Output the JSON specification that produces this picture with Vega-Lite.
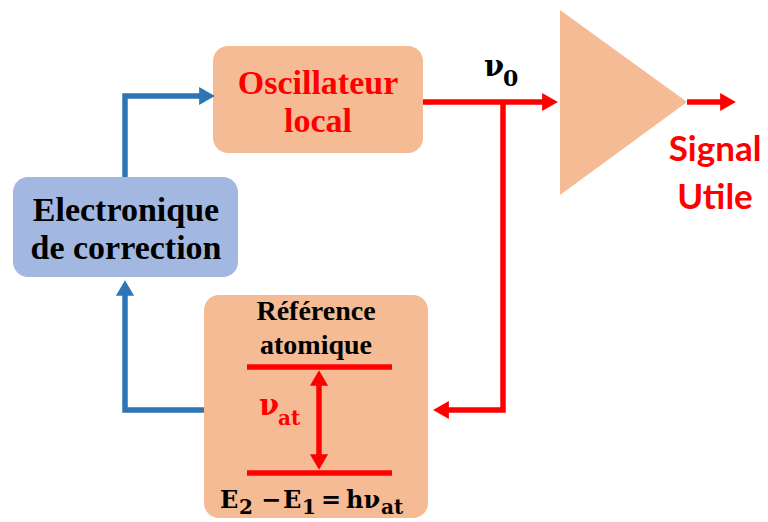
{
  "$schema": "https://vega.github.io/schema/vega-lite/v6.json",
  "width": 768,
  "height": 522,
  "autosize": {"type": "fit", "contains": "padding"},
  "padding": 0,
  "background": "white",
  "config": {"view": {"stroke": null}},
  "datasets": {
    "boxes": [
      {"x": 213, "x2": 423, "y": 46, "y2": 153, "c": "peach"},
      {"x": 204, "x2": 428, "y": 295, "y2": 518, "c": "peach"},
      {"x": 13, "x2": 238, "y": 177, "y2": 277, "c": "lightblue"}
    ],
    "tri": [
      {"x": 560, "y": 10, "y2": 195},
      {"x": 687, "y": 102, "y2": 102}
    ],
    "paths": [
      {"p": "b1", "c": "blue", "o": 1, "x": 125, "y": 177},
      {"p": "b1", "c": "blue", "o": 2, "x": 125, "y": 96},
      {"p": "b1", "c": "blue", "o": 3, "x": 207, "y": 96},
      {"p": "b2", "c": "blue", "o": 1, "x": 204, "y": 410},
      {"p": "b2", "c": "blue", "o": 2, "x": 125, "y": 410},
      {"p": "b2", "c": "blue", "o": 3, "x": 125, "y": 288},
      {"p": "r1", "c": "red", "o": 1, "x": 423, "y": 102},
      {"p": "r1", "c": "red", "o": 2, "x": 551, "y": 102},
      {"p": "r2", "c": "red", "o": 1, "x": 503, "y": 102},
      {"p": "r2", "c": "red", "o": 2, "x": 503, "y": 410},
      {"p": "r2", "c": "red", "o": 3, "x": 441, "y": 410},
      {"p": "r3", "c": "red", "o": 1, "x": 687, "y": 102},
      {"p": "r3", "c": "red", "o": 2, "x": 729, "y": 102},
      {"p": "r4", "c": "red", "o": 1, "x": 319, "y": 376},
      {"p": "r4", "c": "red", "o": 2, "x": 319, "y": 464},
      {"p": "r5", "c": "red", "o": 1, "x": 247, "y": 367},
      {"p": "r5", "c": "red", "o": 2, "x": 392, "y": 367},
      {"p": "r6", "c": "red", "o": 1, "x": 247, "y": 473},
      {"p": "r6", "c": "red", "o": 2, "x": 392, "y": 473}
    ],
    "heads": [
      {"x": 207, "y": 96, "d": "right", "c": "blue"},
      {"x": 125, "y": 288, "d": "up", "c": "blue"},
      {"x": 550, "y": 102, "d": "right", "c": "red"},
      {"x": 441, "y": 410, "d": "left", "c": "red"},
      {"x": 728, "y": 102, "d": "right", "c": "red"},
      {"x": 319, "y": 378, "d": "up", "c": "red"},
      {"x": 319, "y": 462, "d": "down", "c": "red"}
    ],
    "bigSerif": [
      {"t": "Oscillateur", "x": 318, "y": 84, "c": "red"},
      {"t": "local", "x": 318, "y": 122, "c": "red"},
      {"t": "Electronique", "x": 126, "y": 211, "c": "black"},
      {"t": "de correction", "x": 126, "y": 249, "c": "black"}
    ],
    "midSerif": [
      {"t": "Référence", "x": 316, "y": 312, "c": "black"},
      {"t": "atomique", "x": 316, "y": 346, "c": "black"}
    ],
    "mathBig": [
      {"t": "E", "x": 220, "y": 508, "c": "black"},
      {"t": "−", "x": 261, "y": 508, "c": "black"},
      {"t": "E", "x": 283, "y": 508, "c": "black"},
      {"t": "=", "x": 321, "y": 508, "c": "black"},
      {"t": "hν", "x": 346, "y": 508, "c": "black"}
    ],
    "mathSmall": [
      {"t": "2", "x": 239, "y": 514, "c": "black"},
      {"t": "1", "x": 302, "y": 514, "c": "black"},
      {"t": "at", "x": 381, "y": 514, "c": "black"},
      {"t": "at", "x": 278, "y": 425, "c": "red"}
    ],
    "nuBig": [
      {"t": "ν", "x": 259, "y": 415, "c": "red"},
      {"t": "ν", "x": 484, "y": 76, "c": "black"}
    ],
    "sub0": [
      {"t": "0", "x": 503, "y": 86, "c": "black"}
    ],
    "sans": [
      {"t": "Signal", "x": 715, "y": 150, "c": "red"},
      {"t": "Utile", "x": 715, "y": 198, "c": "red"}
    ]
  },
  "layer": [
    {
      "data": {"name": "boxes"},
      "mark": {"type": "rect", "cornerRadius": 15},
      "encoding": {
        "x": {"field": "x", "type": "quantitative", "scale": {"domain": [0, 768], "nice": false, "zero": false}, "axis": null},
        "x2": {"field": "x2"},
        "y": {"field": "y", "type": "quantitative", "scale": {"domain": [0, 522], "nice": false, "zero": false, "reverse": true}, "axis": null},
        "y2": {"field": "y2"},
        "color": {"field": "c", "type": "nominal", "scale": {"domain": ["peach", "lightblue", "blue", "red", "black"], "range": ["#F4BB94", "#A3B8E0", "#2E75B6", "#FF0000", "#000000"]}, "legend": null}
      }
    },
    {
      "data": {"name": "tri"},
      "mark": {"type": "area", "color": "#F4BB94", "opacity": 1},
      "encoding": {
        "x": {"field": "x", "type": "quantitative", "scale": {"domain": [0, 768], "nice": false, "zero": false}, "axis": null},
        "y": {"field": "y", "type": "quantitative", "scale": {"domain": [0, 522], "nice": false, "zero": false, "reverse": true}, "axis": null},
        "y2": {"field": "y2"}
      }
    },
    {
      "data": {"name": "paths"},
      "mark": {"type": "line", "strokeWidth": 5.5, "strokeCap": "butt", "strokeJoin": "miter"},
      "encoding": {
        "x": {"field": "x", "type": "quantitative", "scale": {"domain": [0, 768], "nice": false, "zero": false}, "axis": null},
        "y": {"field": "y", "type": "quantitative", "scale": {"domain": [0, 522], "nice": false, "zero": false, "reverse": true}, "axis": null},
        "detail": {"field": "p", "type": "nominal"},
        "order": {"field": "o", "type": "quantitative"},
        "color": {"field": "c", "type": "nominal", "scale": {"domain": ["peach", "lightblue", "blue", "red", "black"], "range": ["#F4BB94", "#A3B8E0", "#2E75B6", "#FF0000", "#000000"]}, "legend": null}
      }
    },
    {
      "data": {"name": "heads"},
      "mark": {"type": "point", "filled": true, "opacity": 1, "size": 330, "strokeWidth": 0},
      "encoding": {
        "x": {"field": "x", "type": "quantitative", "scale": {"domain": [0, 768], "nice": false, "zero": false}, "axis": null},
        "y": {"field": "y", "type": "quantitative", "scale": {"domain": [0, 522], "nice": false, "zero": false, "reverse": true}, "axis": null},
        "shape": {"field": "d", "type": "nominal", "scale": {"domain": ["right", "left", "up", "down"], "range": ["triangle-right", "triangle-left", "triangle-up", "triangle-down"]}, "legend": null},
        "color": {"field": "c", "type": "nominal", "scale": {"domain": ["peach", "lightblue", "blue", "red", "black"], "range": ["#F4BB94", "#A3B8E0", "#2E75B6", "#FF0000", "#000000"]}, "legend": null}
      }
    },
    {
      "data": {"name": "bigSerif"},
      "mark": {"type": "text", "font": "Liberation Serif", "fontWeight": "bold", "fontSize": 34, "align": "center", "baseline": "middle"},
      "encoding": {
        "x": {"field": "x", "type": "quantitative", "scale": {"domain": [0, 768], "nice": false, "zero": false}, "axis": null},
        "y": {"field": "y", "type": "quantitative", "scale": {"domain": [0, 522], "nice": false, "zero": false, "reverse": true}, "axis": null},
        "text": {"field": "t"},
        "color": {"field": "c", "type": "nominal", "scale": {"domain": ["peach", "lightblue", "blue", "red", "black"], "range": ["#F4BB94", "#A3B8E0", "#2E75B6", "#FF0000", "#000000"]}, "legend": null}
      }
    },
    {
      "data": {"name": "midSerif"},
      "mark": {"type": "text", "font": "Liberation Serif", "fontWeight": "bold", "fontSize": 28, "align": "center", "baseline": "middle"},
      "encoding": {
        "x": {"field": "x", "type": "quantitative", "scale": {"domain": [0, 768], "nice": false, "zero": false}, "axis": null},
        "y": {"field": "y", "type": "quantitative", "scale": {"domain": [0, 522], "nice": false, "zero": false, "reverse": true}, "axis": null},
        "text": {"field": "t"},
        "color": {"field": "c", "type": "nominal", "scale": {"domain": ["peach", "lightblue", "blue", "red", "black"], "range": ["#F4BB94", "#A3B8E0", "#2E75B6", "#FF0000", "#000000"]}, "legend": null}
      }
    },
    {
      "data": {"name": "mathBig"},
      "mark": {"type": "text", "font": "DejaVu Serif", "fontWeight": "bold", "fontSize": 24, "align": "left", "baseline": "alphabetic"},
      "encoding": {
        "x": {"field": "x", "type": "quantitative", "scale": {"domain": [0, 768], "nice": false, "zero": false}, "axis": null},
        "y": {"field": "y", "type": "quantitative", "scale": {"domain": [0, 522], "nice": false, "zero": false, "reverse": true}, "axis": null},
        "text": {"field": "t"},
        "color": {"field": "c", "type": "nominal", "scale": {"domain": ["peach", "lightblue", "blue", "red", "black"], "range": ["#F4BB94", "#A3B8E0", "#2E75B6", "#FF0000", "#000000"]}, "legend": null}
      }
    },
    {
      "data": {"name": "mathSmall"},
      "mark": {"type": "text", "font": "DejaVu Serif", "fontWeight": "bold", "fontSize": 20, "align": "left", "baseline": "alphabetic"},
      "encoding": {
        "x": {"field": "x", "type": "quantitative", "scale": {"domain": [0, 768], "nice": false, "zero": false}, "axis": null},
        "y": {"field": "y", "type": "quantitative", "scale": {"domain": [0, 522], "nice": false, "zero": false, "reverse": true}, "axis": null},
        "text": {"field": "t"},
        "color": {"field": "c", "type": "nominal", "scale": {"domain": ["peach", "lightblue", "blue", "red", "black"], "range": ["#F4BB94", "#A3B8E0", "#2E75B6", "#FF0000", "#000000"]}, "legend": null}
      }
    },
    {
      "data": {"name": "nuBig"},
      "mark": {"type": "text", "font": "DejaVu Serif", "fontWeight": "bold", "fontSize": 29, "align": "left", "baseline": "alphabetic"},
      "encoding": {
        "x": {"field": "x", "type": "quantitative", "scale": {"domain": [0, 768], "nice": false, "zero": false}, "axis": null},
        "y": {"field": "y", "type": "quantitative", "scale": {"domain": [0, 522], "nice": false, "zero": false, "reverse": true}, "axis": null},
        "text": {"field": "t"},
        "color": {"field": "c", "type": "nominal", "scale": {"domain": ["peach", "lightblue", "blue", "red", "black"], "range": ["#F4BB94", "#A3B8E0", "#2E75B6", "#FF0000", "#000000"]}, "legend": null}
      }
    },
    {
      "data": {"name": "sub0"},
      "mark": {"type": "text", "font": "DejaVu Serif", "fontWeight": "bold", "fontSize": 22, "align": "left", "baseline": "alphabetic"},
      "encoding": {
        "x": {"field": "x", "type": "quantitative", "scale": {"domain": [0, 768], "nice": false, "zero": false}, "axis": null},
        "y": {"field": "y", "type": "quantitative", "scale": {"domain": [0, 522], "nice": false, "zero": false, "reverse": true}, "axis": null},
        "text": {"field": "t"},
        "color": {"field": "c", "type": "nominal", "scale": {"domain": ["peach", "lightblue", "blue", "red", "black"], "range": ["#F4BB94", "#A3B8E0", "#2E75B6", "#FF0000", "#000000"]}, "legend": null}
      }
    },
    {
      "data": {"name": "sans"},
      "mark": {"type": "text", "font": "Lato", "fontWeight": "bold", "fontSize": 35, "align": "center", "baseline": "middle"},
      "encoding": {
        "x": {"field": "x", "type": "quantitative", "scale": {"domain": [0, 768], "nice": false, "zero": false}, "axis": null},
        "y": {"field": "y", "type": "quantitative", "scale": {"domain": [0, 522], "nice": false, "zero": false, "reverse": true}, "axis": null},
        "text": {"field": "t"},
        "color": {"field": "c", "type": "nominal", "scale": {"domain": ["peach", "lightblue", "blue", "red", "black"], "range": ["#F4BB94", "#A3B8E0", "#2E75B6", "#FF0000", "#000000"]}, "legend": null}
      }
    }
  ]
}
